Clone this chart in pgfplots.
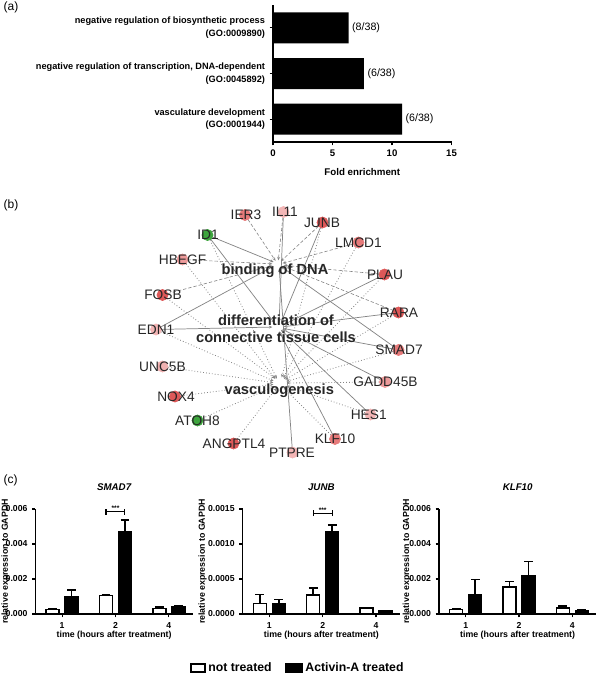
\documentclass[border=0pt]{standalone}
\usepackage{fontspec}
\setmainfont{Liberation Sans}
\usepackage{pgfplots}
\pgfplotsset{compat=1.18}
\usetikzlibrary{arrows.meta}

\definecolor{deep}{HTML}{DD5858}
\definecolor{mid}{HTML}{E67A7A}
\definecolor{midpale}{HTML}{EE9B9B}
\definecolor{pale}{HTML}{F3B5B5}
\definecolor{vpale}{HTML}{EFB0B0}
\definecolor{gr}{HTML}{3DA53D}
\definecolor{edgec}{HTML}{858585}
\definecolor{lab}{HTML}{262626}

\pgfplotsset{
  /pgf/number format/assume math mode=true,
  bnd/.style={edgec, line width=0.45pt, dash pattern=on 2.5pt off 1.5pt, -{Stealth[length=2.6pt,width=2.2pt]}, shorten >=2pt},
  sld/.style={edgec, line width=0.55pt, solid, -{Stealth[length=2.6pt,width=2.2pt]}, shorten >=2pt},
  dtd/.style={edgec, line width=0.6pt, dash pattern=on 0.6pt off 1.6pt, -{Stealth[length=2.6pt,width=2.2pt]}, shorten >=2pt},
  gene/.style={only marks, mark=*, mark size=4.2pt, mark options={draw=none}},
  cax/.style={scale only axis, width=118pt, height=78.75pt,
    xmin=-0.5, xmax=2.45, ymin=0,
    axis lines*=left, axis line style={line width=1.1pt,-},
    tick style={line width=0.8pt, black}, tick align=outside, major tick length=2.5pt,
    xtick={0,1,2}, xticklabels={1,2,4},
    ticklabel style={font=\bfseries\fontsize{6.5}{7}\selectfont},
    scaled y ticks=false,
    xlabel={time (hours after treatment)},
    xlabel style={at={(axis description cs:0.5,-0.2)}, anchor=center},
    ylabel={relative expression to GAPDH},
    label style={font=\bfseries\fontsize{6.6}{7}\selectfont},
    title style={font=\bfseries\itshape\fontsize{7.3}{8}\selectfont, at={(axis description cs:0.5,1.133)}, anchor=center},
    clip=false},
  ntb/.style={ybar, bar width=9.75pt, bar shift=0pt, fill=white, draw=black, line width=1.2pt},
  atb/.style={ybar, bar width=9.75pt, bar shift=0pt, fill=black, draw=black, line width=1.2pt},
  brk/.style={black, line width=0.8pt, forget plot},
  ebar/.style={error bars/.cd, y dir=plus, y explicit, error bar style={line width=1.2pt, black}, error mark options={rotate=90, mark size=3.3pt, line width=1.2pt, black}},
}

\begin{document}
\begin{tikzpicture}
\useasboundingbox (0,0) rectangle (450pt,-506.25pt);

\node[anchor=west, inner sep=0pt, font=\fontsize{9}{10}\selectfont] at (2.5pt,-5.8pt) {(a)};
\node[anchor=west, inner sep=0pt, font=\fontsize{9}{10}\selectfont] at (2.5pt,-153.75pt) {(b)};
\node[anchor=west, inner sep=0pt, font=\fontsize{9}{10}\selectfont] at (2.5pt,-360pt) {(c)};

% ---------------- panel (a)
\begin{axis}[
  at={(204.75pt,-106.5pt)}, anchor=south west,
  scale only axis, width=133.9pt, height=102.75pt,
  xmin=0, xmax=15, ymin=0.5, ymax=3.5,
  axis lines*=left, axis line style={line width=1.1pt,-},
  tick style={line width=0.8pt, black}, tick align=outside, major tick length=2.5pt,
  xtick={0,5,10,15}, ytick={1,2,3},
  yticklabels={{vasculature development\\(GO:0001944)},{negative regulation of transcription, DNA-dependent\\(GO:0045892)},{negative regulation of biosynthetic process\\(GO:0009890)}},
  yticklabel style={align=right, font=\bfseries\fontsize{6.9}{9.5}\selectfont},
  xticklabel style={font=\bfseries\fontsize{7.2}{8}\selectfont},
  xlabel={Fold enrichment},
  xlabel style={font=\bfseries\fontsize{7.3}{8}\selectfont, at={(axis description cs:0.5,-0.219)}, anchor=center},
  clip=false,
]
\addplot[xbar, fill=black, draw=none, bar width=23.25pt,
  point meta=explicit symbolic, nodes near coords,
  nodes near coords style={font=\fontsize{8}{9}\selectfont, anchor=west, inner sep=2.5pt}]
  coordinates {(6.35,3)[(8/38)] (7.64,2)[(6/38)] (10.84,1)[(6/38)]};
\end{axis}

% ---------------- panel (b)
\begin{axis}[
  at={(97.5pt,-146.25pt)}, anchor=north west,
  scale only axis, width=225pt, height=202.5pt,
  xmin=130, xmax=430, ymin=195, ymax=465, y dir=reverse,
  hide axis, clip=false,
]
% binding of DNA hub (277,263)
\addplot[bnd] coordinates {(245,215) (277,263)};
\addplot[bnd] coordinates {(283.5,212) (278,263)};
\addplot[bnd] coordinates {(322.5,222.5) (279,263)};
\addplot[bnd] coordinates {(358.5,242.5) (280,264)};
\addplot[bnd] coordinates {(182.5,259.5) (275,264)};
\addplot[bnd] coordinates {(384.5,274.5) (281,265)};
\addplot[bnd] coordinates {(162.5,295) (275,265)};
\addplot[bnd] coordinates {(398.5,312.5) (280,265)};
\addplot[sld] coordinates {(207.5,235) (276,263)};
\addplot[sld] coordinates {(156,329.5) (276,265)};
\addplot[sld] coordinates {(398.5,350) (279,265)};
\addplot[sld] coordinates {(292.5,452.5) (279,266)};
% differentiation hub (278,326)
\addplot[sld] coordinates {(207.5,235) (276,325)};
\addplot[sld] coordinates {(283.5,212) (279,325)};
\addplot[sld] coordinates {(322.5,222.5) (280,325)};
\addplot[sld] coordinates {(384.5,274.5) (281,326)};
\addplot[sld] coordinates {(398.5,312.5) (281,327)};
\addplot[sld] coordinates {(398.5,350) (281,328)};
\addplot[sld] coordinates {(156,329.5) (275,327)};
\addplot[sld] coordinates {(385,382) (280,328)};
\addplot[sld] coordinates {(370.5,414.5) (279,328)};
\addplot[sld] coordinates {(335,439) (278,329)};
% vasculogenesis hub (280,383)
\addplot[dtd] coordinates {(182.5,259.5) (277,381)};
\addplot[dtd] coordinates {(207.5,235) (278,381)};
\addplot[dtd] coordinates {(156,329.5) (276,382)};
\addplot[dtd] coordinates {(162.5,366.5) (276,383)};
\addplot[dtd] coordinates {(175,396.5) (276,384)};
\addplot[dtd] coordinates {(197.5,420.5) (277,385)};
\addplot[dtd] coordinates {(233.5,443.5) (278,386)};
\addplot[dtd] coordinates {(335,439) (282,386)};
\addplot[dtd] coordinates {(370.5,414.5) (284,385)};
\addplot[dtd] coordinates {(385,382) (284,383)};
\addplot[dtd] coordinates {(398.5,350) (284,382)};
\addplot[dtd] coordinates {(398.5,312.5) (283,381)};
\addplot[dtd] coordinates {(384.5,274.5) (282,381)};
\addplot[dtd] coordinates {(322.5,222.5) (281,380)};
\addplot[dtd] coordinates {(358.5,242.5) (282,380)};
\addplot[dtd] coordinates {(162.5,295) (277,380)};
% gene circles
\addplot[gene, deep] coordinates {(322.5,222.5) (384.5,274.5) (162.5,295) (398.5,312.5) (175,396.5) (233.5,443.5)};
\addplot[gene, mid] coordinates {(245,215) (358.5,242.5) (398.5,350) (335,439)};
\addplot[gene, midpale] coordinates {(182.5,259.5) (385,382)};
\addplot[gene, pale] coordinates {(283.5,212) (156,329.5) (370.5,414.5) (292.5,452.5)};
\addplot[gene, vpale] coordinates {(162.5,366.5)};
\addplot[gene, gr] coordinates {(207.5,235) (197.5,420.5)};
% gene labels
\addplot[draw=none, mark=none, point meta=explicit symbolic, nodes near coords,
  nodes near coords style={anchor=center, inner sep=0pt, text=lab, font=\fontsize{10.3}{11}\selectfont}]
  coordinates {(246,215)[IER3] (285,212)[IL11] (322,222.5)[JUNB] (208,235)[ID1]
  (358.5,242.5)[LMCD1] (182.5,259.5)[HBEGF] (385,274.5)[PLAU] (163,295)[FOSB]
  (399,312.5)[RARA] (156,329.5)[EDN1] (399,350)[SMAD7] (162.5,366.5)[UNC5B]
  (385.5,382)[GADD45B] (176,396.5)[NOX4] (368.7,414.5)[HES1] (197.5,420.5)[ATOH8]
  (234,443.5)[ANGPTL4] (292,452.5)[PTPRE] (335,439)[KLF10]};
\node[anchor=center, inner sep=0pt, text=lab, font=\bfseries\fontsize{11}{12}\selectfont] at (axis cs:275,271) {binding of DNA};
\node[anchor=center, inner sep=0pt, text=lab, align=center, font=\bfseries\fontsize{11}{12.75}\selectfont] at (axis cs:276,329.2) {differentiation of\\connective tissue cells};
\node[anchor=center, inner sep=0pt, text=lab, font=\bfseries\fontsize{11}{12}\selectfont] at (axis cs:279.3,390.7) {vasculogenesis};
\end{axis}

% ---------------- panel (c): SMAD7
\begin{axis}[cax,
  at={(26.6pt,-460.5pt)}, anchor=south west,
  ymax=0.006, ytick={0,0.002,0.004,0.006}, yticklabels={0.000,0.002,0.004,0.006},
  ylabel style={at={(axis description cs:-0.19,0.5)}, anchor=center},
  title={SMAD7}]
\addplot[ntb, ebar]
  coordinates {(-0.178,0.00025) +- (0,0.00004) (0.822,0.00105) +- (0,0.00003) (1.822,0.00032) +- (0,0.00008)};
\addplot[atb, ebar]
  coordinates {(0.178,0.00099) +- (0,0.00038) (1.178,0.00472) +- (0,0.00065) (2.178,0.00042) +- (0,0.00006)};
\addplot[brk] coordinates {(0.822,0.00567) (0.822,0.00601)};
\addplot[brk] coordinates {(0.822,0.00584) (1.178,0.00584)};
\addplot[brk] coordinates {(1.178,0.00567) (1.178,0.00601)};
\node[anchor=south, inner sep=0.6pt, font=\bfseries\fontsize{5}{5}\selectfont] at (axis cs:1,0.00584) {***};
\end{axis}

% ---------------- panel (c): JUNB
\begin{axis}[cax,
  at={(182pt,-460.5pt)}, anchor=south west,
  ymax=0.0015, ytick={0,0.0005,0.001,0.0015}, yticklabels={0.0000,0.0005,0.0010,0.0015},
  ylabel style={at={(axis description cs:-0.255,0.5)}, anchor=center},
  title={JUNB},
  legend style={at={(axis description cs:0.352,-0.514)}, anchor=center, draw=none, fill=none,
    legend columns=2, font=\bfseries\fontsize{9.2}{10}\selectfont,
    /tikz/every even column/.append style={column sep=8pt}}]
\addlegendimage{legend image code/.code={\draw[fill=white, draw=black, line width=1.3pt] (0pt,-2.8pt) rectangle (10.5pt,2.8pt);}}
\addlegendentry{not treated}
\addlegendimage{legend image code/.code={\draw[fill=black, draw=black, line width=1.3pt] (0pt,-2.8pt) rectangle (12pt,2.8pt);}}
\addlegendentry{Activin-A treated}
\addplot[ntb, forget plot, ebar]
  coordinates {(-0.178,0.00015) +- (0,0.00013) (0.822,0.00027) +- (0,0.0001) (1.822,0.00009) +- (0,0.000005)};
\addplot[atb, forget plot, ebar]
  coordinates {(0.178,0.00015) +- (0,0.00006) (1.178,0.00118) +- (0,0.00009) (2.178,0.00004) +- (0,0.000005)};
\addplot[brk] coordinates {(0.822,0.001397) (0.822,0.001483)};
\addplot[brk] coordinates {(0.822,0.00144) (1.178,0.00144)};
\addplot[brk] coordinates {(1.178,0.001397) (1.178,0.001483)};
\node[anchor=south, inner sep=0.6pt, font=\bfseries\fontsize{5}{5}\selectfont] at (axis cs:1,0.00144) {***};
\end{axis}

% ---------------- panel (c): KLF10
\begin{axis}[cax,
  at={(329.25pt,-460.5pt)}, anchor=south west,
  ymax=0.006, ytick={0,0.002,0.004,0.006}, yticklabels={0.000,0.002,0.004,0.006},
  ylabel style={at={(axis description cs:-0.205,0.5)}, anchor=center},
  title={KLF10}]
\addplot[ntb, ebar]
  coordinates {(-0.178,0.00025) +- (0,0.00004) (0.822,0.00156) +- (0,0.00029) (1.822,0.00035) +- (0,0.0001)};
\addplot[atb, ebar]
  coordinates {(0.178,0.00109) +- (0,0.00089) (1.178,0.00219) +- (0,0.0008) (2.178,0.0002) +- (0,0.00005)};
\end{axis}
\end{tikzpicture}
\end{document}
